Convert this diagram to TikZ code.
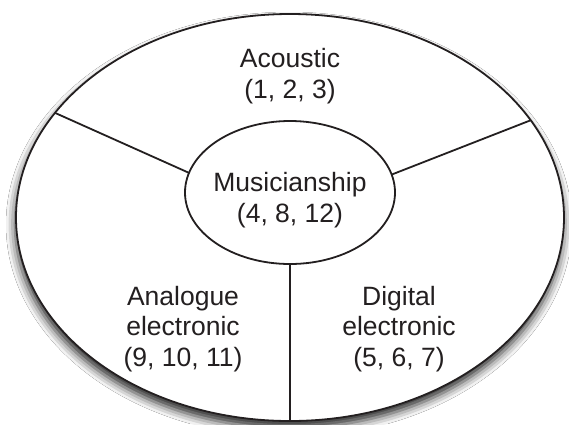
\documentclass[tikz,border=0pt]{standalone}
\usepackage{fontspec}
\setmainfont{Liberation Sans}
\usetikzlibrary{shapes.geometric,shadows.blur}
\definecolor{ink}{HTML}{231F20}
\tikzset{
  ring/.style={ellipse, draw=ink, line width=1.8pt, fill=white, inner sep=0pt, outer sep=0pt},
  divider/.style={draw=ink, line width=1.8pt},
  label/.style={align=center, text=ink, inner sep=0pt, font=\fontsize{26.5}{30.5}\selectfont}
}
\begin{document}
\begin{tikzpicture}[x=1pt, y=-1pt]
\useasboundingbox (0,0) rectangle (569,424);
\clip (0,0) rectangle (569,424);
\fill[white] (0,0) rectangle (569,424);
\node[ring, minimum width=548pt, minimum height=407pt,
      blur shadow={shadow xshift=-1pt, shadow yshift=-7pt, shadow blur radius=9pt, shadow opacity=85}]
  (outer) at (290,217.5) {};
\node[ring, minimum width=210pt, minimum height=143pt] (inner) at (290,192.5) {};
\draw[divider] (outer.156.8) -- (inner.169.6);
\draw[divider] (outer.22.9) -- (inner.10.2);
\draw[divider] (inner.south) -- (outer.south);
\node[label] (acoustic) at (290,76) {Acoustic\\(1, 2, 3)};
\node[label] (music) at (290,200) {Musicianship\\(4, 8, 12)};
\node[label] (analogue) at (183,329) {Analogue\\electronic\\(9, 10, 11)};
\node[label] (digital) at (399,329) {Digital\\electronic\\(5, 6, 7)};
\end{tikzpicture}
\end{document}
